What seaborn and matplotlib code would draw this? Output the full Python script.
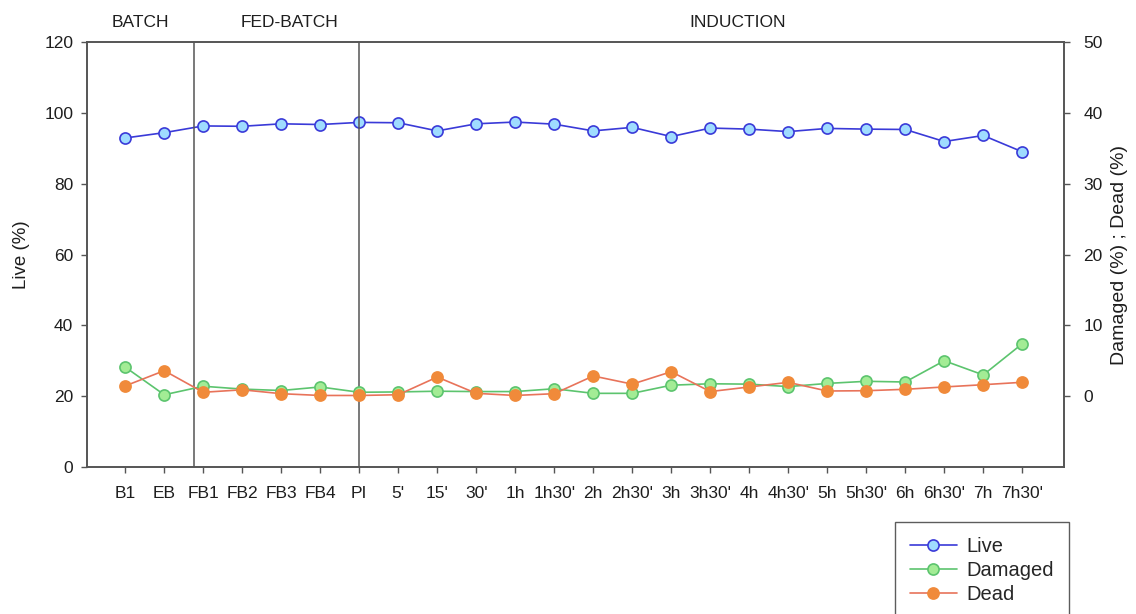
import matplotlib
matplotlib.use("Agg")
import matplotlib.pyplot as plt
import matplotlib.transforms as mtransforms
import seaborn as sns
import numpy as np

sns.set_style("ticks")
plt.rcParams["font.family"] = ["Liberation Sans", "DejaVu Sans"]

# Sampling points across the three culture phases
samples = ["B1", "EB", "FB1", "FB2", "FB3", "FB4", "PI", "5'", "15'", "30'",
           "1h", "1h30'", "2h", "2h30'", "3h", "3h30'", "4h", "4h30'", "5h",
           "5h30'", "6h", "6h30'", "7h", "7h30'"]

# Cell viability (%)
live = [92.9, 94.4, 96.3, 96.2, 96.9, 96.7, 97.3, 97.2, 94.9, 96.9,
        97.4, 96.8, 94.9, 95.9, 93.3, 95.7, 95.4, 94.7, 95.6, 95.4,
        95.3, 91.9, 93.6, 89.0]
damaged = [4.1, 0.2, 1.4, 1.0, 0.8, 1.3, 0.55, 0.6, 0.7, 0.65,
           0.65, 1.05, 0.4, 0.4, 1.55, 1.75, 1.7, 1.35, 1.8, 2.1,
           2.0, 5.0, 3.0, 7.4]
dead = [1.45, 3.6, 0.55, 0.9, 0.35, 0.1, 0.1, 0.2, 2.7, 0.4,
        0.1, 0.35, 2.85, 1.7, 3.45, 0.65, 1.3, 1.95, 0.73, 0.77,
        0.97, 1.3, 1.62, 1.96]

# Phase boundaries (in sample-index units) and phase titles
phase_bounds = [1.77, 6.0]
phase_names = ["BATCH", "FED-BATCH", "INDUCTION"]
phase_centers = [0.4, 4.2, 15.7]

x = np.arange(len(samples))

fig = plt.figure(figsize=(11.36, 6.14), dpi=100)
ax = fig.add_axes([0.0766, 0.2394, 0.86, 0.6922])
ax2 = ax.twinx()

spine_col = "#555555"
text_col = "#1e1e1e"

sns.lineplot(x=x, y=live, ax=ax, color="#3a3ad8", lw=1.2, marker="o",
             markersize=8, markerfacecolor="#9fdcff", markeredgecolor="#3a3ad8",
             markeredgewidth=1.2, label="Live", legend=False)
sns.lineplot(x=x, y=damaged, ax=ax2, color="#5cc46e", lw=1.2, marker="o",
             markersize=8, markerfacecolor="#a3ec95", markeredgecolor="#5cc46e",
             markeredgewidth=1.2, label="Damaged", legend=False)
sns.lineplot(x=x, y=dead, ax=ax2, color="#e8735a", lw=1.2, marker="o",
             markersize=8, markerfacecolor="#f08a3a", markeredgecolor="#f08a3a",
             markeredgewidth=1.2, label="Dead", legend=False)

ax.set_xlim(-0.98, 24.07)
ax.set_ylim(0, 120)
ax2.set_ylim(-10, 50)
ax.set_yticks(np.arange(0, 121, 20))
ax2.set_yticks(np.arange(0, 51, 10))
ax.set_xticks(x)
ax.set_xticklabels(samples)

for b in phase_bounds:
    ax.axvline(b, color=spine_col, lw=1.1)

trans = mtransforms.blended_transform_factory(ax.transData, ax.transAxes)
for name, cx in zip(phase_names, phase_centers):
    ax.text(cx, 1.045, name, transform=trans, ha="center", va="center",
            fontsize=12.5, color=text_col)

ax.set_ylabel("Live (%)", fontsize=13.5, labelpad=10, color=text_col)
ax2.set_ylabel("Damaged (%) ; Dead (%)", fontsize=14, labelpad=6,
               color=text_col)
ax.set_xlabel("")

for a in (ax, ax2):
    for s in a.spines.values():
        s.set_visible(True)
        s.set_color(spine_col)
        s.set_linewidth(1.2)
    a.tick_params(axis="both", labelsize=12.5, color=spine_col, length=4,
                  width=1, labelcolor=text_col)
ax.tick_params(axis="x", pad=10)
ax.tick_params(axis="y", pad=6)
ax2.tick_params(axis="y", pad=10)

handles = ax.get_lines()[:1] + ax2.get_lines()[:2]
fig.legend(handles, ["Live", "Damaged", "Dead"], loc="upper left",
           bbox_to_anchor=(0.788, 0.150), borderaxespad=0, frameon=True,
           fancybox=False, edgecolor="#333333", fontsize=14.5,
           handlelength=2.3, handletextpad=0.5, borderpad=0.75,
           labelspacing=0.26)

fig.savefig("out.png", dpi=100)
